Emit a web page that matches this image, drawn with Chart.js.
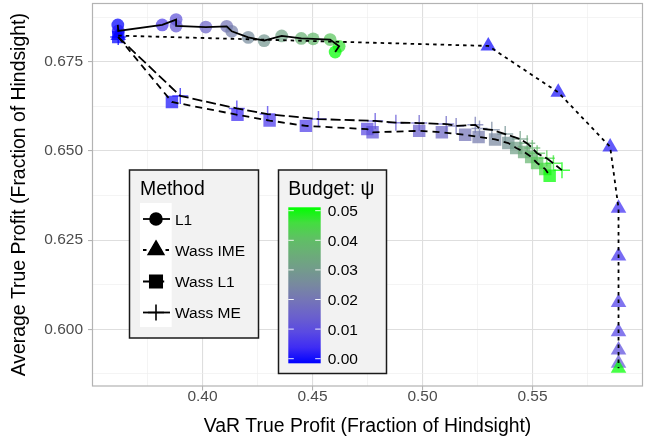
<!DOCTYPE html>
<html><head><meta charset="utf-8">
<style>html,body{margin:0;padding:0;background:#fff;}canvas{display:block;}</style>
<script src="https://cdn.jsdelivr.net/npm/chart.js@4.4.1/dist/chart.umd.min.js"></script>
</head><body>
<canvas id="c" width="654" height="441"></canvas>
<script>
// ---------------- data ----------------
const methodNames = ["L1", "Wass IME", "Wass L1", "Wass ME"];

const l1Var    = [0.3615, 0.3617, 0.3817, 0.3880, 0.3880, 0.4015, 0.4110, 0.4133, 0.4208, 0.4280, 0.4360, 0.4449, 0.4503, 0.4580, 0.4621, 0.4603];
const l1Avg    = [0.6853, 0.6836, 0.6853, 0.6868, 0.6850, 0.6847, 0.6849, 0.6835, 0.6818, 0.6809, 0.6822, 0.6815, 0.6814, 0.6812, 0.6793, 0.6777];
const l1Budget = [0.000, 0.003, 0.008, 0.012, 0.013, 0.016, 0.020, 0.023, 0.026, 0.029, 0.032, 0.036, 0.038, 0.041, 0.046, 0.050];

const imeVar    = [0.3617, 0.5299, 0.5617, 0.5853, 0.5891, 0.5891, 0.5891, 0.5891, 0.5891, 0.5891, 0.5891];
const imeAvg    = [0.6823, 0.6794, 0.6664, 0.6511, 0.6339, 0.6205, 0.6075, 0.5993, 0.5942, 0.5905, 0.5891];
const imeBudget = [0.000, 0.001, 0.002, 0.003, 0.005, 0.006, 0.008, 0.009, 0.011, 0.013, 0.050];

const wl1Var    = [0.3617, 0.3861, 0.4159, 0.4305, 0.4470, 0.4749, 0.4773, 0.4985, 0.5088, 0.5194, 0.5255, 0.5330, 0.5390, 0.5426, 0.5462, 0.5494, 0.5521, 0.5558, 0.5578];
const wl1Avg    = [0.6819, 0.6637, 0.6601, 0.6585, 0.6570, 0.6561, 0.6552, 0.6556, 0.6552, 0.6545, 0.6539, 0.6532, 0.6522, 0.6508, 0.6497, 0.6483, 0.6466, 0.6449, 0.6430];
const wl1Budget = [0.000, 0.002, 0.005, 0.007, 0.008, 0.010, 0.012, 0.015, 0.017, 0.020, 0.022, 0.025, 0.028, 0.031, 0.034, 0.037, 0.041, 0.045, 0.050];

const wmeVar    = [0.3617, 0.3899, 0.4156, 0.4296, 0.4527, 0.4785, 0.4879, 0.4985, 0.5108, 0.5153, 0.5240, 0.5259, 0.5315, 0.5376, 0.5444, 0.5476, 0.5499, 0.5521, 0.5565, 0.5595, 0.5634];
const wmeAvg    = [0.6819, 0.6654, 0.6619, 0.6603, 0.6589, 0.6584, 0.6579, 0.6578, 0.6575, 0.6570, 0.6573, 0.6563, 0.6559, 0.6547, 0.6533, 0.6521, 0.6508, 0.6493, 0.6479, 0.6465, 0.6446];
const wmeBudget = [0.000, 0.002, 0.005, 0.007, 0.009, 0.011, 0.013, 0.015, 0.017, 0.019, 0.021, 0.023, 0.025, 0.028, 0.031, 0.034, 0.037, 0.040, 0.043, 0.047, 0.050];

const xTickValues = [0.375, 0.40, 0.425, 0.45, 0.475, 0.50, 0.525, 0.55, 0.575];
const yTickValues = [0.5875, 0.600, 0.6125, 0.625, 0.6375, 0.650, 0.6625, 0.675, 0.6875];
const budgetTicks = [0.00, 0.01, 0.02, 0.03, 0.04, 0.05];

// ---------------- styling ----------------
const FONT = "'Liberation Sans', Arial, Helvetica, sans-serif";
const colorStops = [
  [0.000, [0, 0, 255]], [0.005, [62, 44, 244]], [0.010, [90, 74, 226]], [0.015, [106, 96, 205]],
  [0.020, [116, 116, 184]], [0.025, [120, 136, 160]], [0.030, [115, 155, 140]], [0.035, [107, 173, 120]],
  [0.040, [95, 192, 100]], [0.045, [68, 221, 64]], [0.050, [0, 255, 0]]
];
function budgetRGB(b) {
  if (b <= colorStops[0][0]) return colorStops[0][1];
  for (let i = 1; i < colorStops.length; i++) {
    if (b <= colorStops[i][0]) {
      const [b0, c0] = colorStops[i - 1], [b1, c1] = colorStops[i];
      const t = (b - b0) / (b1 - b0);
      return c0.map((v, k) => Math.round(v + (c1[k] - v) * t));
    }
  }
  return colorStops[colorStops.length - 1][1];
}
function budgetColor(b, a) { const c = budgetRGB(b); return `rgba(${c[0]},${c[1]},${c[2]},${a})`; }
const pts = (xs, ys) => xs.map((x, i) => ({x, y: ys[i]}));

const ALPHA = 0.72;
function lineSet(xs, ys, dash) {
  return { data: pts(xs, ys), showLine: true, pointRadius: 0, pointHoverRadius: 0,
           borderColor: '#000', borderWidth: 1.8, borderDash: dash, borderCapStyle: 'butt', fill: false };
}
function pointSet(xs, ys, bs, style, radius, stroke) {
  const cols = bs.map(b => budgetColor(b, ALPHA));
  return { data: pts(xs, ys), showLine: false, pointStyle: style, pointRadius: radius, pointHoverRadius: radius,
           backgroundColor: stroke ? 'rgba(0,0,0,0)' : cols, borderColor: stroke ? cols : 'rgba(0,0,0,0)',
           pointBorderWidth: stroke ? 1.5 : 0, borderWidth: stroke ? 1.5 : 0 };
}

const datasets = [
  lineSet(l1Var, l1Avg, []),
  lineSet(imeVar, imeAvg, [3.5, 4]),
  lineSet(wl1Var, wl1Avg, [7, 5]),
  lineSet(wmeVar, wmeAvg, [10, 4]),
  pointSet(wmeVar, wmeAvg, wmeBudget, 'cross', 8, true),
  pointSet(wl1Var, wl1Avg, wl1Budget, 'rect', 8.8, false),
  pointSet(imeVar, imeAvg, imeBudget, 'triangle', 9, false),
  pointSet(l1Var, l1Avg, l1Budget, 'circle', 6.4, false)
];

const isMult = (v, s) => Math.abs(v / s - Math.round(v / s)) < 1e-6;

// ---------------- legends / panel plugin ----------------
const ggPlugin = {
  id: 'gg',
  beforeDraw(chart) {
    const ctx = chart.ctx;
    ctx.save(); ctx.fillStyle = '#fff'; ctx.fillRect(0, 0, chart.width, chart.height); ctx.restore();
  },
  afterDraw(chart) {
    const ctx = chart.ctx;
    const a = chart.chartArea;
    ctx.save();
    // panel border
    ctx.strokeStyle = '#b3b3b3'; ctx.lineWidth = 1.2;
    ctx.strokeRect(a.left, a.top, a.right - a.left, a.bottom - a.top);

    // ---- Method legend ----
    ctx.fillStyle = '#f2f2f2'; ctx.fillRect(129.5, 170, 129, 168);
    ctx.strokeStyle = '#1a1a1a'; ctx.lineWidth = 1.5; ctx.strokeRect(129.5, 170, 129, 168);
    ctx.fillStyle = '#000'; ctx.font = `19.4px ${FONT}`; ctx.textBaseline = 'alphabetic'; ctx.textAlign = 'left';
    ctx.fillText('Method', 140, 195);
    ctx.fillStyle = '#fff'; ctx.fillRect(140, 203, 31.7, 124);
    const keyY = [219, 250, 281.5, 312.5];
    const dashes = [[], [3.5, 4], [7.6, 6], []];
    const styles = ['circle', 'triangle', 'rect', 'cross'];
    const radii = [6, 9, 8.8, 8];
    for (let i = 0; i < 4; i++) {
      const y = keyY[i];
      ctx.save();
      ctx.strokeStyle = '#000'; ctx.lineWidth = 1.8; ctx.setLineDash(dashes[i]); ctx.lineCap = 'butt';
      ctx.beginPath(); ctx.moveTo(143, y); ctx.lineTo(170, y); ctx.stroke();
      ctx.restore();
      ctx.save();
      ctx.fillStyle = '#000'; ctx.strokeStyle = '#000'; ctx.lineWidth = 1.6;
      Chart.helpers.drawPoint(ctx, {pointStyle: styles[i], radius: radii[i], borderWidth: 1.6, rotation: 0}, 156, y);
      if (styles[i] !== 'cross') ctx.fill();
      ctx.restore();
      ctx.fillStyle = '#000'; ctx.font = `15.5px ${FONT}`;
      ctx.fillText(methodNames[i], 175, y + 5.5);
    }

    // ---- Budget legend ----
    ctx.fillStyle = '#f2f2f2'; ctx.fillRect(278.5, 170, 108, 203.5);
    ctx.strokeStyle = '#1a1a1a'; ctx.lineWidth = 1.5; ctx.strokeRect(278.5, 170, 108, 203.5);
    ctx.fillStyle = '#000'; ctx.font = `19.4px ${FONT}`;
    ctx.fillText('Budget: \u03c8', 288.3, 195);
    const barL = 288.3, barR = 320.7, barT = 207.3, barB = 363.3;
    const grad = ctx.createLinearGradient(0, barT, 0, barB);
    for (let k = 0; k <= 50; k++) { const b = 0.05 * (1 - k / 50); grad.addColorStop(k / 50, budgetColor(b, 1)); }
    ctx.fillStyle = grad; ctx.fillRect(barL, barT, barR - barL, barB - barT);
    const tTop = 210.7, tBot = 358.7;
    ctx.strokeStyle = 'rgba(255,255,255,0.9)'; ctx.lineWidth = 1;
    ctx.font = `15.5px ${FONT}`;
    budgetTicks.forEach(v => {
      const y = tBot - (v / 0.05) * (tBot - tTop);
      ctx.beginPath(); ctx.moveTo(barL, y); ctx.lineTo(barL + 5.5, y); ctx.moveTo(barR - 5.5, y); ctx.lineTo(barR, y); ctx.stroke();
      ctx.fillStyle = '#000'; ctx.fillText(v.toFixed(2), 327.7, y + 5.5);
    });
    ctx.restore();
  }
};

const gridColor = (step) => (c) => (c.tick && isMult(c.tick.value, step)) ? '#dedede' : '#ececec';
const gridWidth = (step) => (c) => (c.tick && isMult(c.tick.value, step)) ? 1.1 : 0.6;
const tickColor = (step) => (c) => (c.tick && isMult(c.tick.value, step)) ? '#b3b3b3' : 'rgba(0,0,0,0)';

new Chart(document.getElementById('c'), {
  type: 'scatter',
  data: { datasets },
  options: {
    responsive: false, animation: false, devicePixelRatio: 1,
    layout: { autoPadding: false, padding: { left: 0, right: 11.5, top: 3.5, bottom: 0 } },
    plugins: { legend: { display: false }, tooltip: { enabled: false } },
    scales: {
      x: {
        type: 'linear', min: 0.35, max: 0.6,
        afterBuildTicks: (s) => { s.ticks = xTickValues.map(v => ({value: v})); },
        afterFit: (s) => { s.height = 55; s.paddingLeft = 0; s.paddingRight = 0; },
        border: { display: false },
        grid: { color: gridColor(0.05), lineWidth: gridWidth(0.05), tickColor: tickColor(0.05), tickLength: 4.5, tickWidth: 1.1 },
        ticks: { autoSkip: false, maxRotation: 0, padding: -3, color: '#4d4d4d', font: { family: FONT, size: 15.5 },
                 callback: (v) => isMult(v, 0.05) ? v.toFixed(2) : '' },
        title: { display: true, text: 'VaR True Profit (Fraction of Hindsight)', color: '#000',
                 font: { family: FONT, size: 19.4 }, padding: { top: 0, bottom: 2.5 } }
      },
      y: {
        type: 'linear', min: 0.5841, max: 0.6913,
        afterBuildTicks: (s) => { s.ticks = yTickValues.map(v => ({value: v})); },
        afterFit: (s) => { s.width = 92.5; s.paddingTop = 0; s.paddingBottom = 0; },
        border: { display: false },
        grid: { color: gridColor(0.025), lineWidth: gridWidth(0.025), tickColor: tickColor(0.025), tickLength: 4.5, tickWidth: 1.1 },
        ticks: { autoSkip: false, padding: 5, color: '#4d4d4d', font: { family: FONT, size: 15.5 },
                 callback: (v) => isMult(v, 0.025) ? v.toFixed(3) : '' },
        title: { display: true, text: 'Average True Profit (Fraction of Hindsight)', color: '#000',
                 font: { family: FONT, size: 19.4 }, padding: { top: 8.5, bottom: 0 } }
      }
    }
  },
  plugins: [ggPlugin]
});
</script>
</body></html>
